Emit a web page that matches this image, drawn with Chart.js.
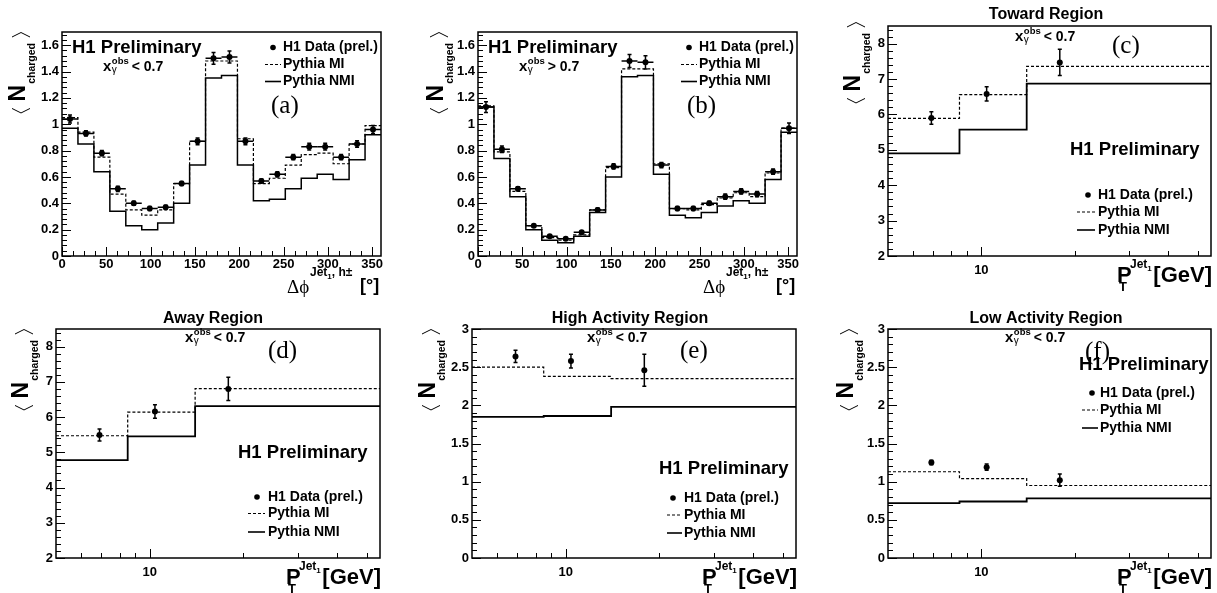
<!DOCTYPE html>
<html><head><meta charset="utf-8">
<script src="https://cdn.jsdelivr.net/npm/chart.js@4.4.1/dist/chart.umd.min.js"></script>
<style>
html,body{margin:0;padding:0;background:#fff;width:1217px;height:593px;overflow:hidden}
#wrap{position:relative;width:1217px;height:593px;background:#fff}
canvas{position:absolute;left:0;top:0}
</style></head><body>
<div id="wrap"></div>
<script>
// ---------------- data ----------------
const phiBinEdges   = [0,18,36,54,72,90,108,126,144,162,180,198,216,234,252,270,288,306,324,342,360];
const phiBinCenters = [9,27,45,63,81,99,117,135,153,171,189,207,225,243,261,279,297,315,333,351];
const phiTickLabels = [0,50,100,150,200,250,300,350];
const nchTicksAB    = [0,0.2,0.4,0.6,0.8,1,1.2,1.4,1.6];

const dataA = [1.04,0.93,0.78,0.51,0.40,0.36,0.37,0.55,0.87,1.50,1.51,0.87,0.57,0.62,0.75,0.83,0.83,0.75,0.85,0.96];
const errA  = [0.03,0.02,0.02,0.02,0.015,0.015,0.015,0.015,0.025,0.045,0.045,0.025,0.015,0.02,0.02,0.025,0.025,0.02,0.025,0.03];
const miA   = [1.05,0.94,0.75,0.47,0.35,0.31,0.35,0.55,0.87,1.48,1.48,0.89,0.55,0.59,0.69,0.77,0.78,0.70,0.85,0.99];
const nmiA  = [0.97,0.85,0.64,0.34,0.23,0.20,0.25,0.40,0.69,1.35,1.37,0.69,0.42,0.43,0.51,0.59,0.62,0.58,0.73,0.92];

const dataB = [1.13,0.81,0.51,0.23,0.15,0.13,0.18,0.35,0.68,1.48,1.47,0.69,0.36,0.36,0.40,0.45,0.49,0.47,0.64,0.97];
const errB  = [0.04,0.025,0.015,0.01,0.01,0.01,0.01,0.015,0.02,0.05,0.05,0.02,0.015,0.015,0.015,0.02,0.02,0.02,0.02,0.04];
const miB   = [1.14,0.79,0.49,0.23,0.14,0.12,0.16,0.35,0.67,1.42,1.42,0.70,0.36,0.35,0.39,0.44,0.48,0.45,0.63,0.97];
const nmiB  = [1.13,0.74,0.45,0.20,0.12,0.10,0.15,0.33,0.60,1.36,1.37,0.62,0.31,0.29,0.33,0.38,0.42,0.40,0.58,0.94];

const ptBinEdges    = [5, 8.5, 14, 55];
const ptBinMeans    = [6.9, 10.4, 17.9];
const ptTickLabels  = [10];
const ptMinorTicks  = [6,7,8,9,20,30,40,50];
const nchTicksCD    = [2,3,4,5,6,7,8];
const nchTicksEF    = [0,0.5,1,1.5,2,2.5,3];

const dataC = [5.90,6.58,7.47]; const errC = [0.18,0.20,0.37];
const miC   = [5.89,6.56,7.36]; const nmiC = [4.90,5.57,6.87];
const dataD = [5.49,6.16,6.80]; const errD = [0.17,0.19,0.33];
const miD   = [5.47,6.14,6.81]; const nmiD = [4.78,5.45,6.31];
const dataE = [2.64,2.58,2.46]; const errE = [0.08,0.09,0.21];
const miE   = [2.50,2.38,2.35]; const nmiE = [1.85,1.86,1.98];
const dataF = [1.25,1.19,1.02]; const errF = [0.03,0.04,0.08];
const miF   = [1.13,1.04,0.95]; const nmiF = [0.72,0.74,0.78];

const legendLabels = ['H1 Data (prel.)','Pythia MI','Pythia NMI'];
const regionTitles = ['','','Toward Region','Away Region','High Activity Region','Low Activity Region'];
const panelLetters = ['(a)','(b)','(c)','(d)','(e)','(f)'];
const xgCuts       = ['< 0.7','> 0.7','< 0.7','< 0.7','< 0.7','< 0.7'];

// ---------------- styling / layout ----------------
const W = 1217, H = 593;
const SANS = '"Liberation Sans", Arial, Helvetica, sans-serif';
const SERIF = '"Liberation Serif", "DejaVu Serif", serif';

const phiCommon = {xType:'linear', xMin:0, xMax:360, xTicks:phiTickLabels, xMinor:12.5, xPad:1,
  yMin:0, yMax:1.7, yTicks:nchTicksAB, yMinor:0.04, edges:phiBinEdges, centers:phiBinCenters, xErr:true, nmiWidth:1.5, xtitle:'phi'};
const ptCommon = {xType:'logarithmic', xMin:5, xMax:55, xTicks:ptTickLabels, xMinorList:ptMinorTicks, xPad:7,
  edges:ptBinEdges, centers:ptBinMeans, xErr:false, nmiWidth:1.8, xtitle:'pt'};

const panels = [
  Object.assign({}, phiCommon, {idx:0, data:dataA, err:errA, mi:miA, nmi:nmiA,
    area:{l:62,r:381,t:32,b:256}, h1:{x:72,y:53}, xg:{x:103,y:70.5},
    leg:{dot:273,tx:283,l0:265,l1:281,ys:[47.5,64.5,81.5]}, letter:{x:271,y:106}, ytitle:{bx:25,top:32}}),
  Object.assign({}, phiCommon, {idx:1, data:dataB, err:errB, mi:miB, nmi:nmiB,
    area:{l:478,r:797,t:32,b:256}, h1:{x:488,y:53}, xg:{x:519,y:70.5},
    leg:{dot:689,tx:699,l0:681,l1:697,ys:[47.5,64.5,81.5]}, letter:{x:687,y:106}, ytitle:{bx:443,top:32}}),
  Object.assign({}, ptCommon, {idx:2, data:dataC, err:errC, mi:miC, nmi:nmiC, yMin:2, yMax:8.5, yTicks:nchTicksCD, yMinor:0.2,
    area:{l:888,r:1211,t:26,b:256}, title:{x:1046,y:14.5}, h1:{x:1070,y:155}, xg:{x:1015,y:40.5},
    leg:{dot:1088,tx:1098,l0:1077,l1:1095,ys:[195,212,230]}, letter:{x:1112,y:46}, ytitle:{bx:860,top:22}}),
  Object.assign({}, ptCommon, {idx:3, data:dataD, err:errD, mi:miD, nmi:nmiD, yMin:2, yMax:8.5, yTicks:nchTicksCD, yMinor:0.2,
    area:{l:56,r:380,t:329,b:558}, title:{x:213,y:319}, h1:{x:238,y:458}, xg:{x:185,y:341.7},
    leg:{dot:257,tx:268,l0:248,l1:265,ys:[497,513.5,532]}, letter:{x:268,y:351}, ytitle:{bx:28,top:329}}),
  Object.assign({}, ptCommon, {idx:4, data:dataE, err:errE, mi:miE, nmi:nmiE, yMin:0, yMax:3, yTicks:nchTicksEF, yMinor:0.1,
    area:{l:472,r:796,t:329,b:558}, title:{x:630,y:318.5}, h1:{x:659,y:474}, xg:{x:587,y:341.7},
    leg:{dot:673,tx:684,l0:667,l1:682,ys:[498,515,533]}, letter:{x:680,y:351.5}, ytitle:{bx:435,top:329}}),
  Object.assign({}, ptCommon, {idx:5, data:dataF, err:errF, mi:miF, nmi:nmiF, yMin:0, yMax:3, yTicks:nchTicksEF, yMinor:0.1,
    area:{l:888,r:1211,t:329,b:558}, title:{x:1046,y:318.5}, h1:{x:1079,y:370}, xg:{x:1005,y:341.7},
    leg:{dot:1092,tx:1100,l0:1082,l1:1098,ys:[393,410,428]}, letter:{x:1085,y:352.5}, ytitle:{bx:853,top:329}})
];

// ---------------- helpers ----------------
function T(ctx, s, x, y, size, o) {
  o = o || {};
  ctx.font = (o.weight || 'bold') + ' ' + size + 'px ' + (o.family || SANS);
  ctx.textAlign = o.align || 'left';
  ctx.textBaseline = o.base || 'alphabetic';
  ctx.fillStyle = '#000';
  ctx.fillText(s, x, y);
  return ctx.measureText(s).width;
}
function histLine(edges, vals) {
  const pts = vals.map((v, i) => ({x: edges[i], y: v}));
  pts.push({x: edges[edges.length - 1], y: vals[vals.length - 1]});
  return pts;
}
function drawErrors(c, p) {
  const ctx = c.ctx, xs = c.scales.x, ys = c.scales.y;
  ctx.save(); ctx.strokeStyle = '#000'; ctx.lineWidth = 1.5;
  p.data.forEach((v, i) => {
    const x = xs.getPixelForValue(p.centers[i]);
    const y1 = ys.getPixelForValue(v - p.err[i]), y2 = ys.getPixelForValue(v + p.err[i]);
    ctx.beginPath();
    ctx.moveTo(x, y1); ctx.lineTo(x, y2);
    ctx.moveTo(x - 2, y1); ctx.lineTo(x + 2, y1);
    ctx.moveTo(x - 2, y2); ctx.lineTo(x + 2, y2);
    if (p.xErr) {
      const y = ys.getPixelForValue(v);
      ctx.moveTo(xs.getPixelForValue(p.edges[i]), y);
      ctx.lineTo(xs.getPixelForValue(p.edges[i + 1]), y);
    }
    ctx.stroke();
  });
  ctx.restore();
}
function drawFrame(c, p) {
  const ctx = c.ctx, A = c.chartArea, xs = c.scales.x, ys = c.scales.y;
  ctx.save(); ctx.strokeStyle = '#000'; ctx.lineWidth = 1;
  ctx.beginPath();
  for (let k = 0; ; k++) {
    const v = p.yMin + k * p.yMinor;
    if (v > p.yMax + 1e-6) break;
    const maj = p.yTicks.some(t => Math.abs(t - v) < 1e-5);
    const y = Math.round(ys.getPixelForValue(v)) + 0.5;
    ctx.moveTo(A.left, y); ctx.lineTo(A.left + (maj ? 9 : 5), y);
  }
  let xt = [];
  if (p.xType === 'linear') {
    for (let k = 0; ; k++) {
      const v = p.xMin + k * p.xMinor;
      if (v > p.xMax + 1e-6) break;
      xt.push([v, p.xTicks.some(t => Math.abs(t - v) < 1e-5)]);
    }
  } else {
    p.xTicks.forEach(v => xt.push([v, true]));
    p.xMinorList.forEach(v => xt.push([v, false]));
  }
  xt.forEach(([v, maj]) => {
    const x = Math.round(xs.getPixelForValue(v)) + 0.5;
    ctx.moveTo(x, A.bottom); ctx.lineTo(x, A.bottom - (maj ? 9 : 5));
  });
  ctx.stroke();
  ctx.lineWidth = 1.5;
  ctx.strokeRect(A.left, A.top, A.right - A.left, A.bottom - A.top);
  ctx.restore();
}
function drawYTitle(ctx, bx, top) {
  ctx.save();
  ctx.translate(bx, top);
  ctx.rotate(-Math.PI / 2);
  ctx.strokeStyle = '#000'; ctx.lineWidth = 1;
  ctx.beginPath(); ctx.moveTo(-5, -13); ctx.lineTo(-0.5, -4); ctx.lineTo(-5, 5); ctx.stroke();
  ctx.font = 'bold 10.5px ' + SANS; const wc = ctx.measureText('charged').width;
  ctx.font = 'bold 23px ' + SANS; const wn = ctx.measureText('N').width;
  const cEnd = -11;
  T(ctx, 'charged', cEnd - wc, 10, 10.5);
  const nEnd = cEnd - wc - 1;
  T(ctx, 'N', nEnd - wn, 0, 23);
  const lb = nEnd - wn - 7;
  ctx.beginPath(); ctx.moveTo(lb, -13); ctx.lineTo(lb - 4.5, -4); ctx.lineTo(lb, 5); ctx.stroke();
  ctx.restore();
}
function drawXg(ctx, x, y, cut) {
  const w = T(ctx, 'x', x, y, 15);
  const sx = x + w + 0.5;
  const w1 = T(ctx, 'obs', sx, y - 6.5, 9.5);
  T(ctx, 'γ', sx, y + 2, 10, {weight: 'normal'});
  T(ctx, cut, sx + w1 + 3, y, 14);
}
function drawLegend(ctx, L) {
  ctx.save();
  ctx.fillStyle = '#000';
  ctx.beginPath(); ctx.arc(L.dot, L.ys[0], 2.8, 0, 2 * Math.PI); ctx.fill();
  ctx.strokeStyle = '#000';
  ctx.lineWidth = 1.2; ctx.setLineDash([3, 2]);
  ctx.beginPath(); ctx.moveTo(L.l0, L.ys[1]); ctx.lineTo(L.l1, L.ys[1]); ctx.stroke();
  ctx.setLineDash([]); ctx.lineWidth = 1.6;
  ctx.beginPath(); ctx.moveTo(L.l0, L.ys[2]); ctx.lineTo(L.l1, L.ys[2]); ctx.stroke();
  ctx.restore();
  legendLabels.forEach((s, i) => T(ctx, s, L.tx, L.ys[i], 14, {base: 'middle'}));
}
function drawXTitle(ctx, p) {
  const r = p.area.r, b = p.area.b;
  if (p.xtitle === 'phi') {
    T(ctx, 'Δϕ', r - 94, b + 37, 19, {weight: 'normal', family: SERIF});
    const w = T(ctx, 'Jet', r - 71, b + 20, 12);
    const w2 = T(ctx, '1', r - 71 + w, b + 23, 8);
    T(ctx, ', h±', r - 71 + w + w2, b + 20, 12);
    T(ctx, '[°]', r - 21, b + 35, 18);
  } else {
    T(ctx, 'P', r - 94, b + 26, 22);
    T(ctx, 'T', r - 92, b + 35, 13);
    const w = T(ctx, 'Jet', r - 81, b + 12, 12);
    T(ctx, '1', r - 81 + w, b + 15, 8);
    T(ctx, '[GeV]', r + 1, b + 26, 22, {align: 'right'});
  }
}
function drawTexts(c, p) {
  const ctx = c.ctx;
  ctx.save();
  if (p.title) T(ctx, regionTitles[p.idx], p.title.x, p.title.y, 16, {align: 'center', base: 'middle'});
  T(ctx, 'H1 Preliminary', p.h1.x, p.h1.y, 18.5);
  drawXg(ctx, p.xg.x, p.xg.y, xgCuts[p.idx]);
  drawLegend(ctx, p.leg);
  T(ctx, panelLetters[p.idx], p.letter.x, p.letter.y, 25, {weight: 'normal', family: SERIF, base: 'middle'});
  drawYTitle(ctx, p.ytitle.bx, p.ytitle.top);
  drawXTitle(ctx, p);
  ctx.restore();
}

// ---------------- charts ----------------
const wrap = document.getElementById('wrap');
function makePanel(p) {
  const cv = document.createElement('canvas');
  cv.width = W; cv.height = H; cv.style.width = W + 'px'; cv.style.height = H + 'px';
  wrap.appendChild(cv);
  const A = p.area;
  const tickFont = {family: SANS, weight: 'bold', size: 13};
  new Chart(cv, {
    type: 'scatter',
    data: {datasets: [
      {label: legendLabels[0], type: 'scatter', data: p.centers.map((x, i) => ({x: x, y: p.data[i]})),
       pointRadius: 3, pointHoverRadius: 3, pointStyle: 'circle', backgroundColor: '#000', borderColor: '#000', borderWidth: 0},
      {label: legendLabels[1], type: 'line', data: histLine(p.edges, p.mi), stepped: true,
       borderColor: '#000', borderWidth: 1.2, borderDash: [3, 2], pointRadius: 0, fill: false},
      {label: legendLabels[2], type: 'line', data: histLine(p.edges, p.nmi), stepped: true,
       borderColor: '#000', borderWidth: p.nmiWidth, pointRadius: 0, fill: false}
    ]},
    options: {
      responsive: false, animation: false, devicePixelRatio: 1, events: [],
      layout: {padding: {left: 0, top: A.t, right: W - A.r, bottom: 0}},
      plugins: {legend: {display: false}, tooltip: {enabled: false}, title: {display: false}},
      scales: {
        x: {type: p.xType, min: p.xMin, max: p.xMax, bounds: 'data',
            grid: {display: false, drawTicks: false}, border: {display: false},
            ticks: {autoSkip: false, maxRotation: 0, minRotation: 0, padding: p.xPad, color: '#000', font: tickFont,
                    callback: v => String(v)},
            afterBuildTicks: s => { s.ticks = p.xTicks.map(v => ({value: v})); },
            afterFit: s => { s.height = H - A.b; }},
        y: {type: 'linear', min: p.yMin, max: p.yMax, bounds: 'data',
            grid: {display: false, drawTicks: false}, border: {display: false},
            ticks: {autoSkip: false, padding: 3, color: '#000', font: tickFont, callback: v => String(v)},
            afterBuildTicks: s => { s.ticks = p.yTicks.map(v => ({value: v})); },
            afterFit: s => { s.width = A.l; }}
      }
    },
    plugins: [{
      id: 'rootStyle' + p.idx,
      beforeDatasetsDraw(c) { drawErrors(c, p); },
      afterDraw(c) { drawFrame(c, p); drawTexts(c, p); }
    }]
  });
}
panels.forEach(makePanel);
</script>
</body></html>
